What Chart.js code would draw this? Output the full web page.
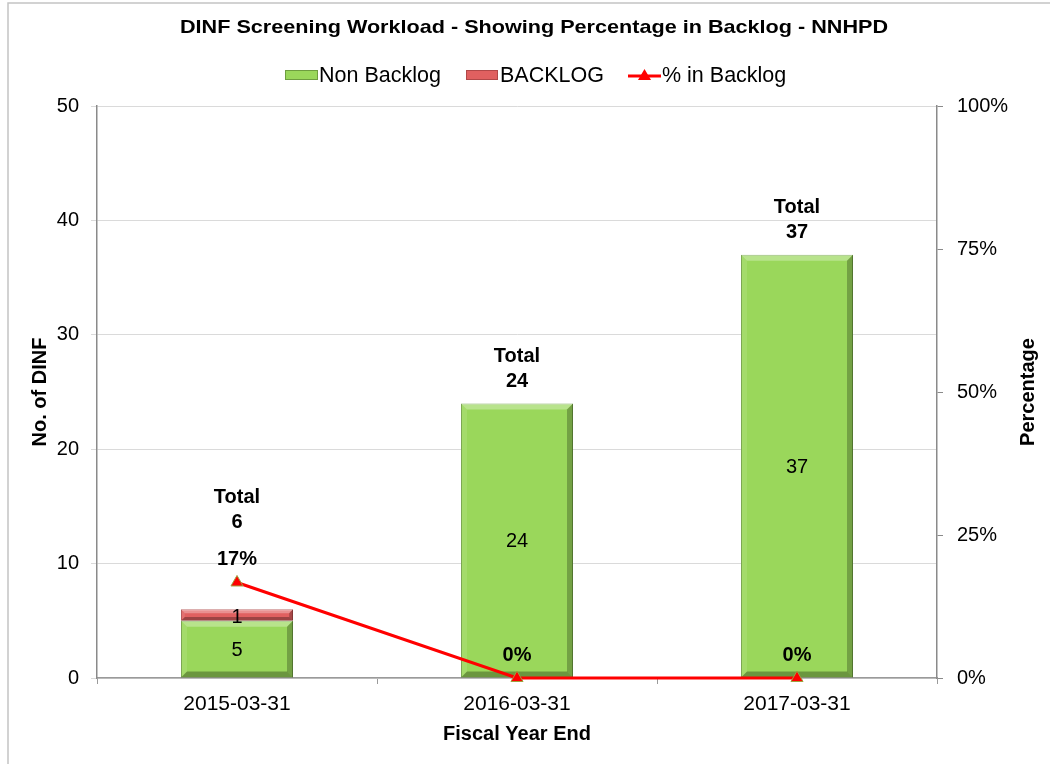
<!DOCTYPE html>
<html>
<head>
<meta charset="utf-8">
<script src="https://cdn.jsdelivr.net/npm/chart.js@4.4.1/dist/chart.umd.min.js"></script>
<style>
  html, body { margin: 0; padding: 0; background: #fff; }
  #wrap { width: 1050px; height: 764px; position: relative; }
</style>
</head>
<body>
<div id="wrap"><canvas id="chart" width="1050" height="764"></canvas></div>
<script>
// chart data
const years = ["2015-03-31", "2016-03-31", "2017-03-31"];
const nonBacklog = [5, 24, 37];
const backlog = [1, 0, 0];
const pctBacklog = [16.7, 0, 0];
const leftTicks = [0, 10, 20, 30, 40, 50];
const rightTicks = [0, 25, 50, 75, 100];

const FONT = "'Liberation Sans', Arial, sans-serif";
const GREEN = "#9ad75b";
const RED = "#e06060";

// bevelled look of the Excel bars
const bevelPlugin = {
    id: "bevel",
    afterDatasetDraw(chart, args) {
        if (args.meta.type !== "bar") return;
        const ctx = chart.ctx;
        args.meta.data.forEach(bar => {
            const p = bar.getProps(["x", "y", "base", "width"], true);
            const h = p.base - p.y;
            if (h <= 0) return;
            const l = p.x - p.width / 2, r = p.x + p.width / 2;
            const t = p.y, b = p.base;
            const s = Math.min(6, h / 3);
            ctx.save();
            const poly = (pts, col) => {
                ctx.beginPath();
                ctx.moveTo(pts[0][0], pts[0][1]);
                pts.slice(1).forEach(q => ctx.lineTo(q[0], q[1]));
                ctx.closePath();
                ctx.fillStyle = col;
                ctx.fill();
            };
            poly([[l, t], [r, t], [r - s, t + s], [l + s, t + s]], "rgba(255,255,255,0.3)");
            poly([[l, t], [l + s, t + s], [l + s, b - s], [l, b]], "rgba(255,255,255,0.1)");
            poly([[r, t], [r, b], [r - s, b - s], [r - s, t + s]], "rgba(0,0,0,0.25)");
            poly([[l, b], [r, b], [r - s, b - s], [l + s, b - s]], "rgba(0,0,0,0.3)");
            ctx.restore();
        });
    }
};

// title, legend, axis titles and data labels
const textPlugin = {
    id: "texts",
    afterDraw(chart) {
        const ctx = chart.ctx;
        const x = chart.scales.x, y = chart.scales.y, y1 = chart.scales.y1;
        const area = chart.chartArea;
        ctx.save();

        // outer frame
        ctx.strokeStyle = "#c4c4c4";
        ctx.lineWidth = 1.5;
        ctx.beginPath();
        ctx.moveTo(8, 770);
        ctx.lineTo(8, 3);
        ctx.lineTo(1055, 3);
        ctx.stroke();

        ctx.fillStyle = "#000";
        ctx.textAlign = "center";
        ctx.textBaseline = "middle";

        // title, stretched to the width it has in the original
        const title = "DINF Screening Workload - Showing Percentage in Backlog - NNHPD";
        ctx.font = "bold 19px " + FONT;
        const tw = ctx.measureText(title).width;
        ctx.save();
        ctx.translate(534, 28);
        ctx.scale(708 / tw, 1);
        ctx.fillText(title, 0, 0);
        ctx.restore();

        // legend
        ctx.font = "21.5px " + FONT;
        ctx.textAlign = "left";
        ctx.fillStyle = GREEN;
        ctx.fillRect(285, 70, 33, 10);
        ctx.strokeStyle = "#6e9d40";
        ctx.lineWidth = 1;
        ctx.strokeRect(285.5, 70.5, 32, 9);
        ctx.fillStyle = "#000";
        ctx.fillText("Non Backlog", 319, 76);

        ctx.fillStyle = RED;
        ctx.fillRect(466, 70, 32, 10);
        ctx.strokeStyle = "#b04848";
        ctx.strokeRect(466.5, 70.5, 31, 9);
        ctx.fillStyle = "#000";
        ctx.fillText("BACKLOG", 500, 76);

        ctx.strokeStyle = "#ff0000";
        ctx.lineWidth = 3;
        ctx.beginPath();
        ctx.moveTo(628, 76);
        ctx.lineTo(661, 76);
        ctx.stroke();
        ctx.fillStyle = "#ff0000";
        ctx.beginPath();
        ctx.moveTo(644.5, 69);
        ctx.lineTo(651, 80);
        ctx.lineTo(638, 80);
        ctx.closePath();
        ctx.fill();
        ctx.fillStyle = "#000";
        ctx.fillText("% in Backlog", 662, 76);

        // axis titles
        ctx.textAlign = "center";
        ctx.font = "bold 20px " + FONT;
        ctx.fillText("Fiscal Year End", (area.left + area.right) / 2, 734);
        const midY = (area.top + area.bottom) / 2;
        ctx.save();
        ctx.translate(40, midY);
        ctx.rotate(-Math.PI / 2);
        ctx.fillText("No. of DINF", 0, 0);
        ctx.restore();
        ctx.save();
        ctx.translate(1028, midY);
        ctx.rotate(-Math.PI / 2);
        ctx.fillText("Percentage", 0, 0);
        ctx.restore();

        // data labels
        years.forEach((yr, i) => {
            const cx = x.getPixelForValue(i);
            ctx.font = "20px " + FONT;
            ctx.fillText(String(nonBacklog[i]), cx, y.getPixelForValue(nonBacklog[i] / 2) + 1);
            if (backlog[i] > 0) {
                ctx.fillText(String(backlog[i]), cx, y.getPixelForValue(nonBacklog[i] + backlog[i] / 2) + 2);
            }
            ctx.font = "bold 20px " + FONT;
            const pctY = y1.getPixelForValue(pctBacklog[i]) - 23;
            ctx.fillText(Math.round(pctBacklog[i]) + "%", cx, pctY);
            const total = nonBacklog[i] + backlog[i];
            const numY = Math.min(y.getPixelForValue(total) - 22, pctY - 37);
            ctx.fillText(String(total), cx, numY);
            ctx.fillText("Total", cx, numY - 25);
        });
        ctx.restore();
    }
};

new Chart(document.getElementById("chart"), {
    data: {
        labels: years,
        datasets: [
            {
                type: "line",
                label: "% in Backlog",
                data: pctBacklog,
                yAxisID: "y1",
                order: 0,
                borderColor: "#ff0000",
                borderWidth: 3,
                pointStyle: "triangle",
                pointRadius: 7,
                pointBackgroundColor: "#ff0000",
                pointBorderColor: "#a0a040",
                pointBorderWidth: 1,
                clip: false,
                tension: 0
            },
            {
                type: "bar",
                label: "Non Backlog",
                data: nonBacklog,
                yAxisID: "y",
                order: 1,
                backgroundColor: GREEN,
                borderColor: "#6e9d40",
                borderWidth: 1,
                barPercentage: 0.4,
                categoryPercentage: 1
            },
            {
                type: "bar",
                label: "BACKLOG",
                data: backlog,
                yAxisID: "y",
                order: 1,
                backgroundColor: RED,
                borderColor: "#b04848",
                borderWidth: 1,
                barPercentage: 0.4,
                categoryPercentage: 1
            }
        ]
    },
    options: {
        responsive: false,
        animation: false,
        layout: { padding: { top: 106, left: 0, right: 0, bottom: 0 } },
        plugins: {
            legend: { display: false },
            title: { display: false },
            tooltip: { enabled: false }
        },
        scales: {
            x: {
                stacked: true,
                offset: true,
                grid: { drawOnChartArea: false, tickLength: 6, color: "#9a9a9a", offset: true },
                border: { color: "#9a9a9a", width: 1.5 },
                ticks: { color: "#000", font: { family: FONT, size: 21 }, padding: 8 },
                afterFit: s => { s.height = 86; }
            },
            y: {
                stacked: true,
                position: "left",
                min: 0,
                max: 50,
                afterBuildTicks: s => { s.ticks = leftTicks.map(v => ({ value: v })); },
                grid: { color: "#dadada", tickLength: 6, lineWidth: 1 },
                border: { color: "#8a8a8a", width: 1.5 },
                ticks: { color: "#000", font: { family: FONT, size: 20 }, padding: 12 },
                afterFit: s => { s.width = 97; }
            },
            y1: {
                position: "right",
                min: 0,
                max: 100,
                afterBuildTicks: s => { s.ticks = rightTicks.map(v => ({ value: v })); },
                grid: { drawOnChartArea: false, tickLength: 6, color: "#8a8a8a" },
                border: { color: "#8a8a8a", width: 1.5 },
                ticks: {
                    color: "#000",
                    font: { family: FONT, size: 20 },
                    padding: 14,
                    callback: v => v + "%"
                },
                afterFit: s => { s.width = 113; }
            }
        }
    },
    plugins: [bevelPlugin, textPlugin]
});
</script>
</body>
</html>
